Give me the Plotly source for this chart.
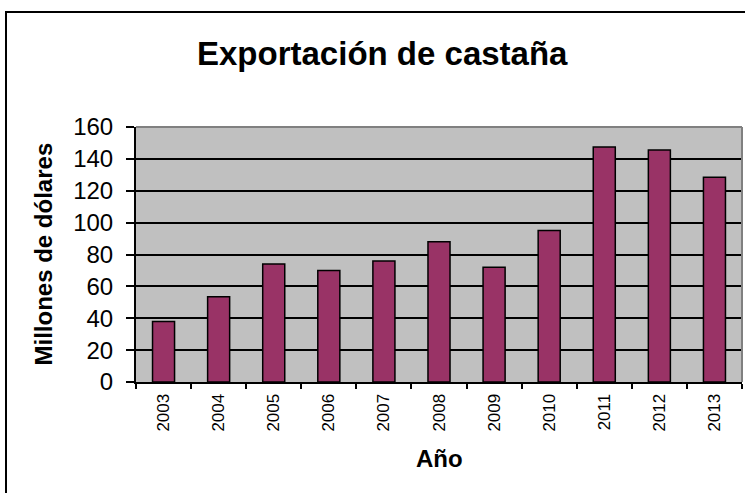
import plotly.graph_objects as go

years = ["2003", "2004", "2005", "2006", "2007", "2008", "2009", "2010", "2011", "2012", "2013"]
values = [38, 53.5, 74, 70, 76, 88, 72, 95, 147.5, 145.5, 128.5]
y_ticks = [0, 20, 40, 60, 80, 100, 120, 140, 160]

W, H = 745, 493
L, R, T, B = 136, 3, 127, 111
pw = W - L - R
ph = H - T - B

def px_x(x):
    return (x - L) / pw

def px_y(y):
    return (H - B - y) / ph

FONT = "Liberation Sans, Arial, sans-serif"

fig = go.Figure(go.Bar(
    x=years, y=values,
    marker=dict(color="#993366", line=dict(color="black", width=1.5)),
    width=0.4,
))

fig.update_layout(
    width=W, height=H,
    margin=dict(l=L, r=R, t=T, b=B, autoexpand=False),
    paper_bgcolor="white",
    plot_bgcolor="#C0C0C0",
    showlegend=False,
    font=dict(family=FONT, color="black"),
)

fig.update_xaxes(
    type="category",
    tickson="boundaries",
    ticks="outside", ticklen=5, tickcolor="black", tickwidth=1.5,
    showline=True, linecolor="black", linewidth=2,
    showgrid=False,
    tickangle=-90,
    tickfont=dict(size=17, family=FONT, color="black"),
    ticklabelstandoff=3,
    automargin=False,
)
fig.update_yaxes(
    range=[0, 160],
    tickvals=y_ticks,
    ticks="outside", ticklen=8, tickcolor="black", tickwidth=1.5,
    showline=True, linecolor="black", linewidth=2,
    showgrid=True, gridcolor="black", gridwidth=1.5,
    zeroline=False,
    tickfont=dict(size=24, family=FONT, color="black"),
    ticklabelstandoff=8,
    automargin=False,
)

shapes = [
    # plot area top and right edges (gray)
    dict(type="line", xref="paper", yref="paper", x0=0, x1=1, y0=1, y1=1,
         line=dict(color="#808080", width=2), layer="above"),
    dict(type="line", xref="paper", yref="paper", x0=1, x1=1, y0=0, y1=1,
         line=dict(color="#808080", width=2), layer="above"),
    # outer chart border
    dict(type="rect", xref="paper", yref="paper",
         x0=px_x(6), x1=px_x(760), y0=px_y(12), y1=px_y(520),
         line=dict(color="black", width=2), fillcolor="rgba(0,0,0,0)", layer="above"),
]
fig.update_layout(shapes=shapes)

fig.add_annotation(
    text="<b>Exportación de castaña</b>",
    xref="paper", yref="paper",
    x=px_x(382), y=px_y(54),
    xanchor="center", yanchor="middle",
    showarrow=False,
    font=dict(size=33, family=FONT, color="black"),
)
fig.add_annotation(
    text="<b>Millones de dólares</b>",
    xref="paper", yref="paper",
    x=px_x(43), y=0.5,
    xanchor="center", yanchor="middle",
    textangle=-90,
    showarrow=False,
    font=dict(size=24, family=FONT, color="black"),
)
fig.add_annotation(
    text="<b>Año</b>",
    xref="paper", yref="paper",
    x=px_x(439), y=px_y(458),
    xanchor="center", yanchor="middle",
    showarrow=False,
    font=dict(size=24, family=FONT, color="black"),
)

fig.write_html("out.html", config={"displayModeBar": False},
               post_script="document.body.style.margin='0';")
